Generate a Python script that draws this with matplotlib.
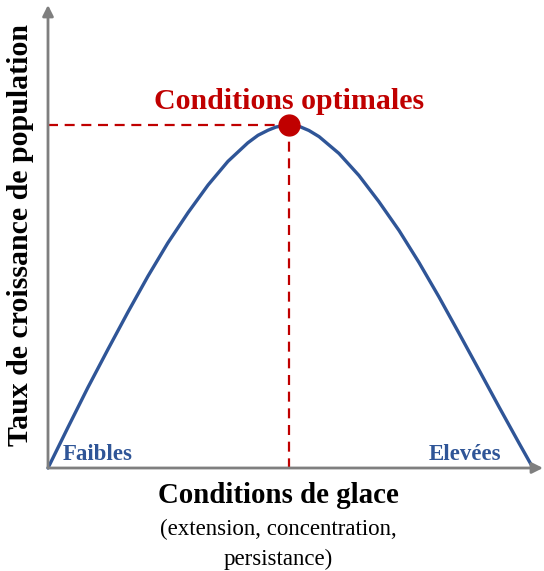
import matplotlib.pyplot as plt

# curve (ice conditions 0-10, growth rate 0-10 at optimum)
ice_left = [0.00, 0.41, 0.82, 1.24, 1.65, 2.06, 2.47, 2.89, 3.30, 3.71, 4.12, 4.33, 4.54, 4.70, 4.85, 4.97]
growth_left = [0.00, 1.18, 2.34, 3.47, 4.55, 5.59, 6.56, 7.45, 8.25, 8.94, 9.48, 9.70, 9.85, 9.94, 9.98, 10.0]
ice_right = [5.18, 5.38, 5.59, 6.00, 6.41, 6.82, 7.24, 7.65, 8.06, 8.47, 8.89, 9.30, 9.71, 10.0]
growth_right = [9.96, 9.84, 9.66, 9.17, 8.53, 7.77, 6.92, 5.99, 4.99, 3.94, 2.85, 1.78, 0.73, 0.00]

ice = ice_left + ice_right
growth = growth_left + growth_right

optimum_x = 4.97
optimum_y = 10.0

W, H = 544, 571
BLUE = '#2F5597'
RED = '#C00000'
GRAY = '#7F7F7F'
SERIF = ['Liberation Serif', 'DejaVu Serif']

fig = plt.figure(figsize=(W / 100, H / 100), dpi=100)
ax = fig.add_axes([48 / W, (H - 468) / H, (W - 48) / W, 468 / H])
ax.set_xlim(0, 496 / 48.5)
ax.set_ylim(0, 468 / 34.3)
ax.axis('off')


def fx(px):
    return px / W


def fy(py):
    return 1 - py / H


# axes with arrows
arrow = dict(arrowstyle='-|>', color=GRAY, lw=2, mutation_scale=16, shrinkA=0, shrinkB=0)
ax.annotate('', xy=(0, 463 / 34.3), xytext=(0, 0), arrowprops=arrow, annotation_clip=False)
ax.annotate('', xy=(495 / 48.5, 0), xytext=(0, 0), arrowprops=arrow, annotation_clip=False)

# guide lines to the optimum
ax.plot([0, optimum_x], [optimum_y, optimum_y], color=RED, lw=1.6, ls=(0, (4.5, 3)), clip_on=False)
ax.plot([optimum_x, optimum_x], [optimum_y, 0], color=RED, lw=1.6, ls=(0, (4.5, 3)), clip_on=False)

ax.plot(ice, growth, color=BLUE, lw=2.4, solid_joinstyle='round', solid_capstyle='round', clip_on=False)
ax.plot([optimum_x], [optimum_y], 'o', color=RED, markersize=15, clip_on=False, zorder=5)

fig.text(fx(289), fy(109), 'Conditions optimales', color=RED, fontsize=21.5, fontweight='bold',
         family=SERIF, ha='center', va='baseline')
fig.text(fx(63), fy(460), 'Faibles', color=BLUE, fontsize=16.5, fontweight='bold',
         family=SERIF, ha='left', va='baseline')
fig.text(fx(501), fy(460), 'Elevées', color=BLUE, fontsize=16.5, fontweight='bold',
         family=SERIF, ha='right', va='baseline')

fig.text(fx(21), fy(235), 'Taux de croissance de population', color='black', fontsize=21.5,
         fontweight='bold', family=SERIF, rotation=90, ha='center', va='center')
fig.text(fx(278), fy(503), 'Conditions de glace', color='black', fontsize=20.8, fontweight='bold',
         family=SERIF, ha='center', va='baseline')
fig.text(fx(278), fy(535), '(extension, concentration,', color='black', fontsize=16.5,
         family=SERIF, ha='center', va='baseline')
fig.text(fx(278), fy(565), 'persistance)', color='black', fontsize=16.5,
         family=SERIF, ha='center', va='baseline')

fig.savefig('out.png', dpi=100)
